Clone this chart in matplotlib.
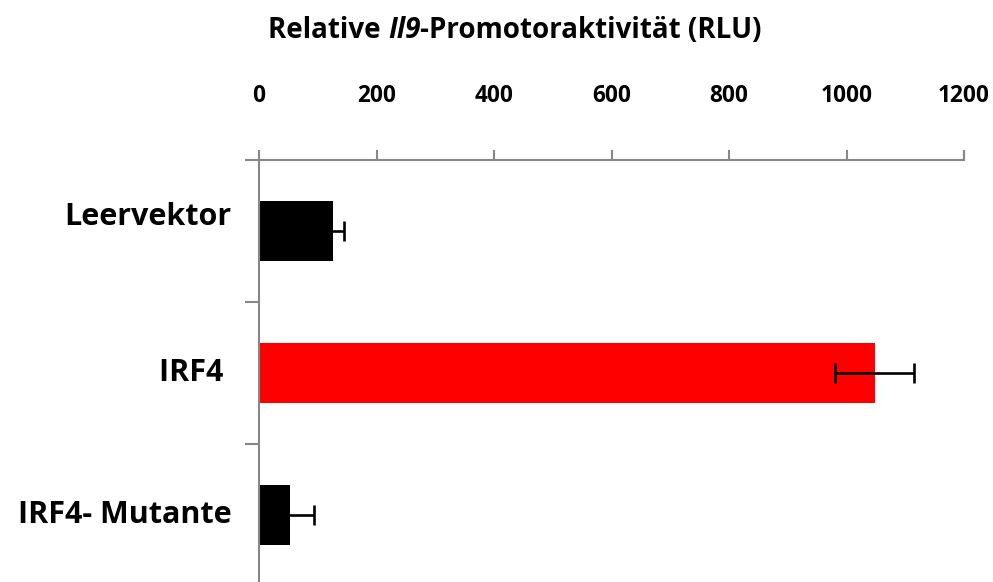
import matplotlib
matplotlib.use("Agg")
import matplotlib.pyplot as plt
import matplotlib.transforms as mtransforms
import numpy as np

# Data
categories = ["Leervektor", "IRF4 ", "IRF4- Mutante"]
values = [126, 1048, 53]
errors = [19, 67, 40]
colors = ["#000000", "#FF0000", "#000000"]
xticks = [0, 200, 400, 600, 800, 1000, 1200]

FONT = "Open Sans"
AXIS_GRAY = "#878787"

W, H = 993, 582
fig = plt.figure(figsize=(W / 100, H / 100), dpi=100)

left_px, right_px, top_px = 259, 964, 160
ax = fig.add_axes([left_px / W, 0, (right_px - left_px) / W, (H - top_px) / H])

pos = np.arange(len(categories))
ax.barh(pos, values, height=0.42, color=colors, zorder=2)
ax.errorbar(values, pos, xerr=errors, fmt="none", ecolor="black",
            elinewidth=1.9, capsize=7.2, capthick=1.9, zorder=3)

ax.set_xlim(0, 1200)
ax.set_ylim(2.472, -0.5)

# Value axis on top
ax.xaxis.set_ticks_position("top")
ax.xaxis.set_label_position("top")
ax.set_xticks(xticks)
ax.set_xticklabels([str(t) for t in xticks], fontfamily=FONT,
                   fontweight="bold", fontsize=16.3)
ax.tick_params(axis="x", direction="out", length=7.5, width=1.5,
               color=AXIS_GRAY, pad=30)

# Category axis: labels at bar centres, tick marks at category boundaries
ax.set_yticks(pos)
ax.set_yticklabels(categories, fontfamily=FONT, fontweight="bold",
                   fontsize=22)
ax.set_yticks([-0.5, 0.5, 1.5], minor=True)
ax.tick_params(axis="y", which="major", length=0, pad=20)
ax.tick_params(axis="y", which="minor", direction="out", length=10,
               width=1.5, color=AXIS_GRAY)
for i, lab in enumerate(ax.get_yticklabels()):
    lab.set_verticalalignment("center_baseline")
    shift = 17 if i == 0 else 3
    lab.set_transform(lab.get_transform() +
                      mtransforms.ScaledTranslation(0, shift / 100, fig.dpi_scale_trans))

for side in ("bottom", "right"):
    ax.spines[side].set_visible(False)
for side in ("top", "left"):
    ax.spines[side].set_color(AXIS_GRAY)
    ax.spines[side].set_linewidth(1.5)

# Right end tick of value axis
ax.plot([1.0, 1.0], [1.0, 1.0 + 10 / (H - top_px)], transform=ax.transAxes,
        color=AXIS_GRAY, lw=1.5, clip_on=False, solid_capstyle="butt")

# Title with italic gene name
ty = 1 - 38 / H
fs = 20
t1 = fig.text(268 / W, ty, "Relative ", fontfamily=FONT, fontweight="bold",
              fontsize=fs, va="baseline", ha="left")
t2 = fig.text(0, 0, "Il9", fontfamily=FONT, fontweight="bold",
              fontstyle="italic", fontsize=fs, va="baseline")
t3 = fig.text(0, 0, "-Promotoraktivität (RLU)", fontfamily=FONT,
              fontweight="bold", fontsize=fs, va="baseline")
fig.canvas.draw()
r = fig.canvas.get_renderer()
x = t1.get_window_extent(r).x1
t2.set_position((x / W, ty))
fig.canvas.draw()
x = t2.get_window_extent(r).x1
t3.set_position((x / W, ty))

fig.savefig("out.png", dpi=100)
